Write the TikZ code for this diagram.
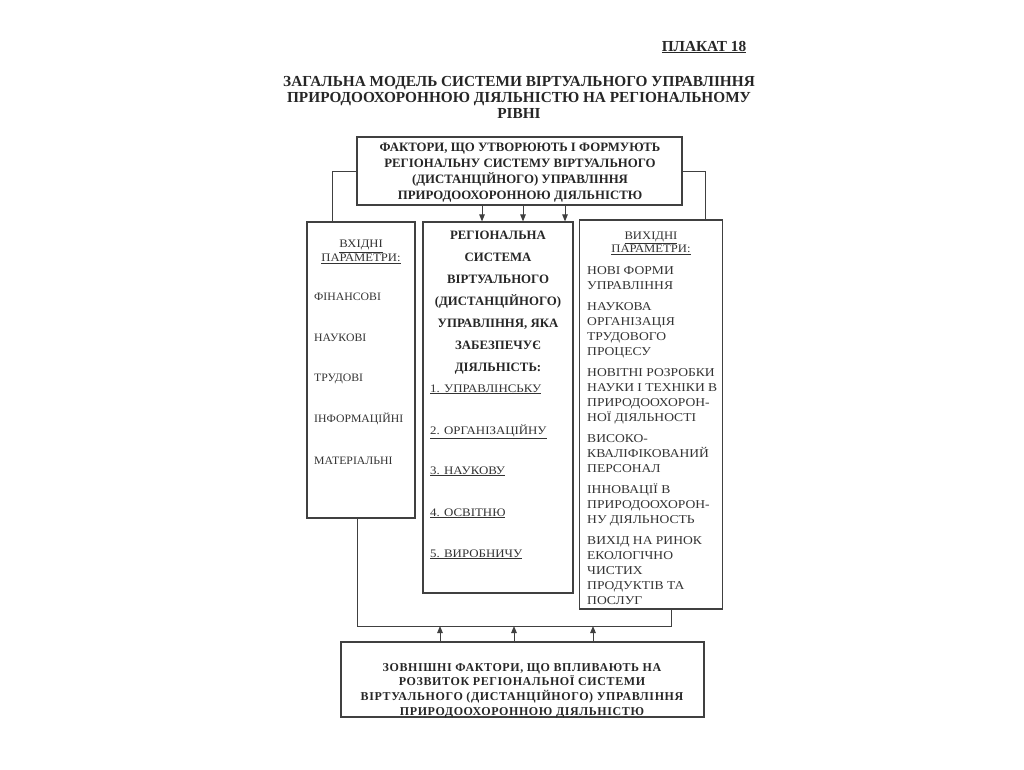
\documentclass[tikz,border=0pt]{standalone}
\usepackage{fontspec}
\setmainfont{Liberation Serif}
\usetikzlibrary{arrows.meta}
\begin{document}
\begin{tikzpicture}[x=1pt,y=-1pt,
  box/.style={draw=black!75, line width=1.2pt, inner sep=0pt},
  conn/.style={draw=black!75, line width=1pt},
  arr/.style={conn, -{Triangle[length=7pt,width=5.5pt]}},
  ttl/.style={font=\fontsize{15.3}{16}\selectfont\bfseries, align=center, inner sep=0pt, text=black!85},
  hdr/.style={font=\fontsize{12.8}{16}\selectfont\bfseries, align=center, inner sep=0pt, text=black!85},
  ext/.style={font=\fontsize{12}{14.7}\selectfont\bfseries\addfontfeature{LetterSpace=5}, align=center, inner sep=0pt, text=black!85},
  mh/.style={font=\fontsize{12.8}{22}\selectfont\bfseries, align=center, inner sep=0pt, text=black!85},
  txt/.style={font=\fontsize{11.3}{14}\selectfont\addfontfeature{FakeStretch=1.04}, inner sep=0pt, text=black!80},
  mtxt/.style={font=\fontsize{11.5}{14}\selectfont\addfontfeature{FakeStretch=1.12}, inner sep=0pt, text=black!80},
  phd/.style={font=\fontsize{11.5}{13.5}\selectfont\addfontfeature{FakeStretch=1.1}, align=center, inner sep=0pt, text=black!80},
  rtxt/.style={font=\fontsize{12}{15}\selectfont\addfontfeature{FakeStretch=1.13}, align=left, inner sep=0pt, text=black!80}
]
\useasboundingbox (0,0) rectangle (1024,769);
\fill[white] (0,0) rectangle (1024,769);

% titles
\node[ttl, anchor=base] (plakat) at (704,51) {\underline{ПЛАКАТ 18}};
\node[ttl] (title) at (519,97.5) {ЗАГАЛЬНА МОДЕЛЬ СИСТЕМИ ВІРТУАЛЬНОГО УПРАВЛІННЯ\\ПРИРОДООХОРОННОЮ ДІЯЛЬНІСТЮ НА РЕГІОНАЛЬНОМУ\\РІВНІ};

% boxes
\node[box, minimum width=325, minimum height=68] (top) at (519.5,171) {};
\node[box, minimum width=108, minimum height=296] (left) at (361,370) {};
\node[box, minimum width=150, minimum height=371] (mid) at (498,407.5) {};
\node[box, minimum width=143, minimum height=389] (right) at (651,414.5) {};
\node[box, minimum width=363, minimum height=75] (bot) at (522.5,679.5) {};

% box texts
\node[hdr] (toptext) at (520,173) {ФАКТОРИ, ЩО УТВОРЮЮТЬ І ФОРМУЮТЬ\\РЕГІОНАЛЬНУ СИСТЕМУ ВІРТУАЛЬНОГО\\(ДИСТАНЦІЙНОГО) УПРАВЛІННЯ\\ПРИРОДООХОРОННОЮ ДІЯЛЬНІСТЮ};
\node[ext] (bottext) at (522,690.5) {ЗОВНІШНІ ФАКТОРИ, ЩО ВПЛИВАЮТЬ НА\\РОЗВИТОК РЕГІОНАЛЬНОЇ СИСТЕМИ\\ВІРТУАЛЬНОГО (ДИСТАНЦІЙНОГО) УПРАВЛІННЯ\\ПРИРОДООХОРОННОЮ ДІЯЛЬНІСТЮ};

% left box
\node[phd] (inhead) at (361,252) {\underline{ВХІДНІ}\\\underline{ПАРАМЕТРИ:}};
\node[txt, anchor=base west] (in1) at (314,300) {ФІНАНСОВІ};
\node[txt, anchor=base west] (in2) at (314,341) {НАУКОВІ};
\node[txt, anchor=base west] (in3) at (314,381) {ТРУДОВІ};
\node[txt, anchor=base west] (in4) at (314,422) {ІНФОРМАЦІЙНІ};
\node[txt, anchor=base west] (in5) at (314,464) {МАТЕРІАЛЬНІ};

% middle box
\node[mh] (midhead) at (498,303) {РЕГІОНАЛЬНА\\СИСТЕМА\\ВІРТУАЛЬНОГО\\(ДИСТАНЦІЙНОГО)\\УПРАВЛІННЯ, ЯКА\\ЗАБЕЗПЕЧУЄ\\ДІЯЛЬНІСТЬ:};
\node[mtxt, anchor=base west] (m1) at (430,392) {\underline{1. УПРАВЛІНСЬКУ}};
\node[mtxt, anchor=base west] (m2) at (430,434) {\underline{2. ОРГАНІЗАЦІЙНУ}};
\node[mtxt, anchor=base west] (m3) at (430,474) {\underline{3. НАУКОВУ}};
\node[mtxt, anchor=base west] (m4) at (430,516) {\underline{4. ОСВІТНЮ}};
\node[mtxt, anchor=base west] (m5) at (430,557) {\underline{5. ВИРОБНИЧУ}};

% right box
\node[phd] (outhead) at (651,243.5) {\underline{ВИХІДНІ}\\\underline{ПАРАМЕТРИ:}};
\node[rtxt, anchor=north west] (outlist) at (587,266) {НОВІ ФОРМИ\\УПРАВЛІННЯ\\[6pt]НАУКОВА\\ОРГАНІЗАЦІЯ\\ТРУДОВОГО\\ПРОЦЕСУ\\[6pt]НОВІТНІ РОЗРОБКИ\\НАУКИ І ТЕХНІКИ В\\ПРИРОДООХОРОН-\\НОЇ ДІЯЛЬНОСТІ\\[6pt]ВИСОКО-\\КВАЛІФІКОВАНИЙ\\ПЕРСОНАЛ\\[6pt]ІННОВАЦІЇ В\\ПРИРОДООХОРОН-\\НУ ДІЯЛЬНОСТЬ\\[6pt]ВИХІД НА РИНОК\\ЕКОЛОГІЧНО\\ЧИСТИХ\\ПРОДУКТІВ ТА\\ПОСЛУГ};

% connector helper coordinates
\coordinate (lx) at (332,0);
\coordinate (rx) at (705,0);
\coordinate (a1) at (482,0);
\coordinate (a2) at (523,0);
\coordinate (a3) at (565,0);
\coordinate (bl) at (357,626);
\coordinate (br) at (671,626);
\coordinate (u1) at (440,626);
\coordinate (u2) at (514,626);
\coordinate (u3) at (593,626);

% connectors
\draw[conn] (top.west) -| (left.north -| lx);
\draw[conn] (top.east) -| (right.north -| rx);
\draw[arr] (top.south -| a1) -- (mid.north -| a1);
\draw[arr] (top.south -| a2) -- (mid.north -| a2);
\draw[arr] (top.south -| a3) -- (mid.north -| a3);
\draw[conn] (left.south -| bl) -- (bl) -- (br) -- (right.south -| br);
\draw[arr] (bot.north -| u1) -- (u1);
\draw[arr] (bot.north -| u2) -- (u2);
\draw[arr] (bot.north -| u3) -- (u3);
\end{tikzpicture}
\end{document}
